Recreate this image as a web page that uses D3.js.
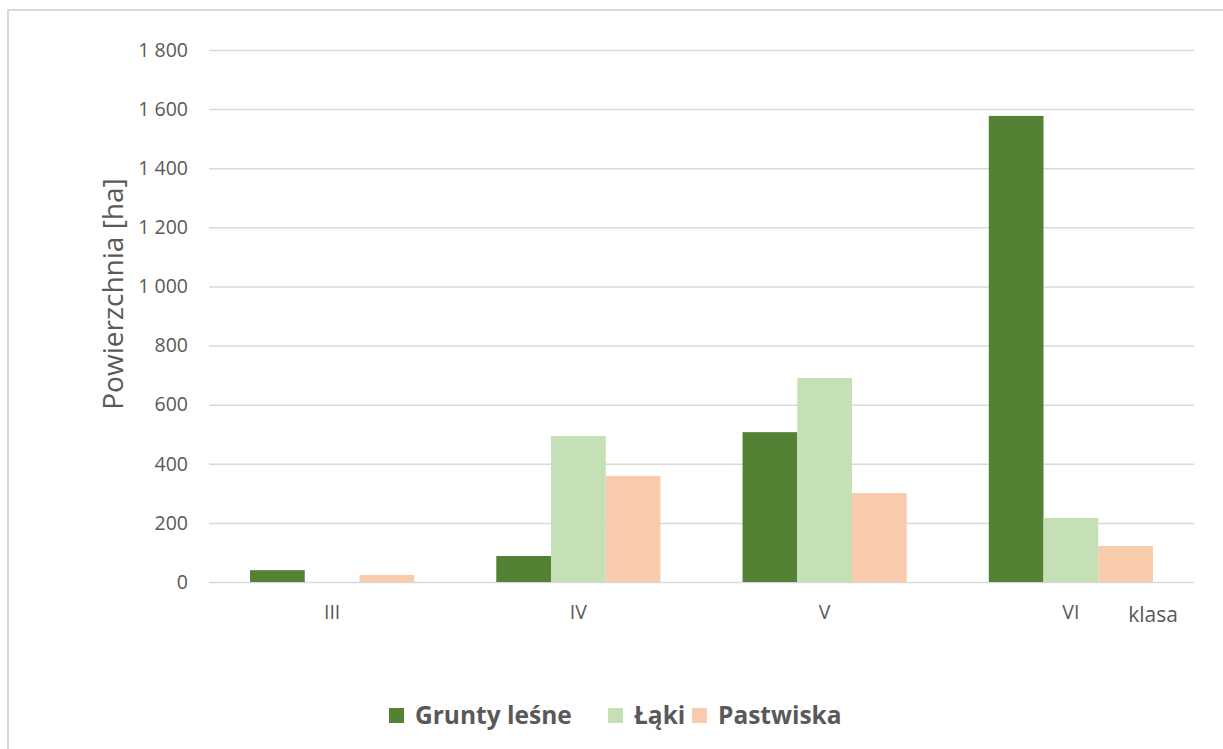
<!DOCTYPE html>
<html><head><meta charset="utf-8">
<script src="https://cdn.jsdelivr.net/npm/d3@7"></script>
<style>body{margin:0;background:#fff;} svg{display:block;}</style>
</head><body><svg id="c" width="1223" height="749"></svg>
<script>
const categories = ["III","IV","V","VI"];
const seriesNames = ["Grunty leśne","Łąki","Pastwiska"];
const gruntyLesne = [40, 88, 507, 1577];
const laki = [0, 494, 690, 217];
const pastwiska = [24, 359, 301, 122];
const yTicks = [0,200,400,600,800,1000,1200,1400,1600,1800];
const colors = ["#548235","#C5E0B4","#F8CBAD"];

(function(){
const series = [gruntyLesne, laki, pastwiska];
const svg = d3.select("#c");
const font = "'Open Sans', 'Noto Sans', sans-serif";
const textCol = "#595959";

svg.append("rect").attr("x",8).attr("y",10).attr("width",1230).attr("height",760)
  .attr("fill","#fff").attr("stroke","#d9d9d9").attr("stroke-width",2);

const pLeft=209, pRight=1194, pTop=50, pBottom=582;
const x = d3.scaleBand().domain(categories).range([pLeft,pRight]).paddingInner(1/3).paddingOuter(1/6);
const y = d3.scaleLinear().domain([0,1800]).range([pBottom,pTop]);
const xs = d3.scaleBand().domain(d3.range(3)).range([0, x.bandwidth()]);

const yAxis = d3.axisLeft(y).tickValues(yTicks).tickSize(-(pRight-pLeft)).tickPadding(21)
  .tickFormat(d => d3.format(",")(d).replace(/,/g," "));
const gy = svg.append("g").attr("transform",`translate(${pLeft},0)`).call(yAxis);
gy.select(".domain").remove();
gy.selectAll(".tick line").attr("stroke","#d9d9d9").attr("stroke-width",1.5);
gy.selectAll(".tick text").attr("fill",textCol).style("font-family",font).style("font-size","19.5px");

categories.forEach((c,ci)=>{
  series.forEach((s,si)=>{
    svg.append("rect")
      .attr("x", x(c)+xs(si)).attr("width", xs.bandwidth())
      .attr("y", y(s[ci])).attr("height", pBottom - y(s[ci]))
      .attr("fill", colors[si]);
  });
});

const xAxis = d3.axisBottom(x).tickSize(0).tickPadding(23);
const gx = svg.append("g").attr("transform",`translate(0,${pBottom})`).call(xAxis);
gx.select(".domain").remove();
gx.selectAll(".tick text").attr("fill",textCol).style("font-family",font).style("font-size","19.5px");

svg.append("text").attr("x",1153).attr("y",622).attr("text-anchor","middle")
  .attr("fill",textCol).style("font-family",font).style("font-size","21px").text("klasa");

svg.append("text").attr("transform",`translate(123,294) rotate(-90)`)
  .attr("text-anchor","middle").attr("fill",textCol).style("font-family",font).style("font-size","28px")
  .text("Powierzchnia [ha]");

const legendX = [389, 608, 692];
seriesNames.forEach((n,i)=>{
  svg.append("rect").attr("x",legendX[i]).attr("y",708).attr("width",15).attr("height",15).attr("fill",colors[i]);
  svg.append("text").attr("x",legendX[i]+26).attr("y",724).attr("fill",textCol)
    .style("font-family",font).style("font-size","24.5px").style("font-weight","bold").text(n);
});
})();
</script></body></html>
